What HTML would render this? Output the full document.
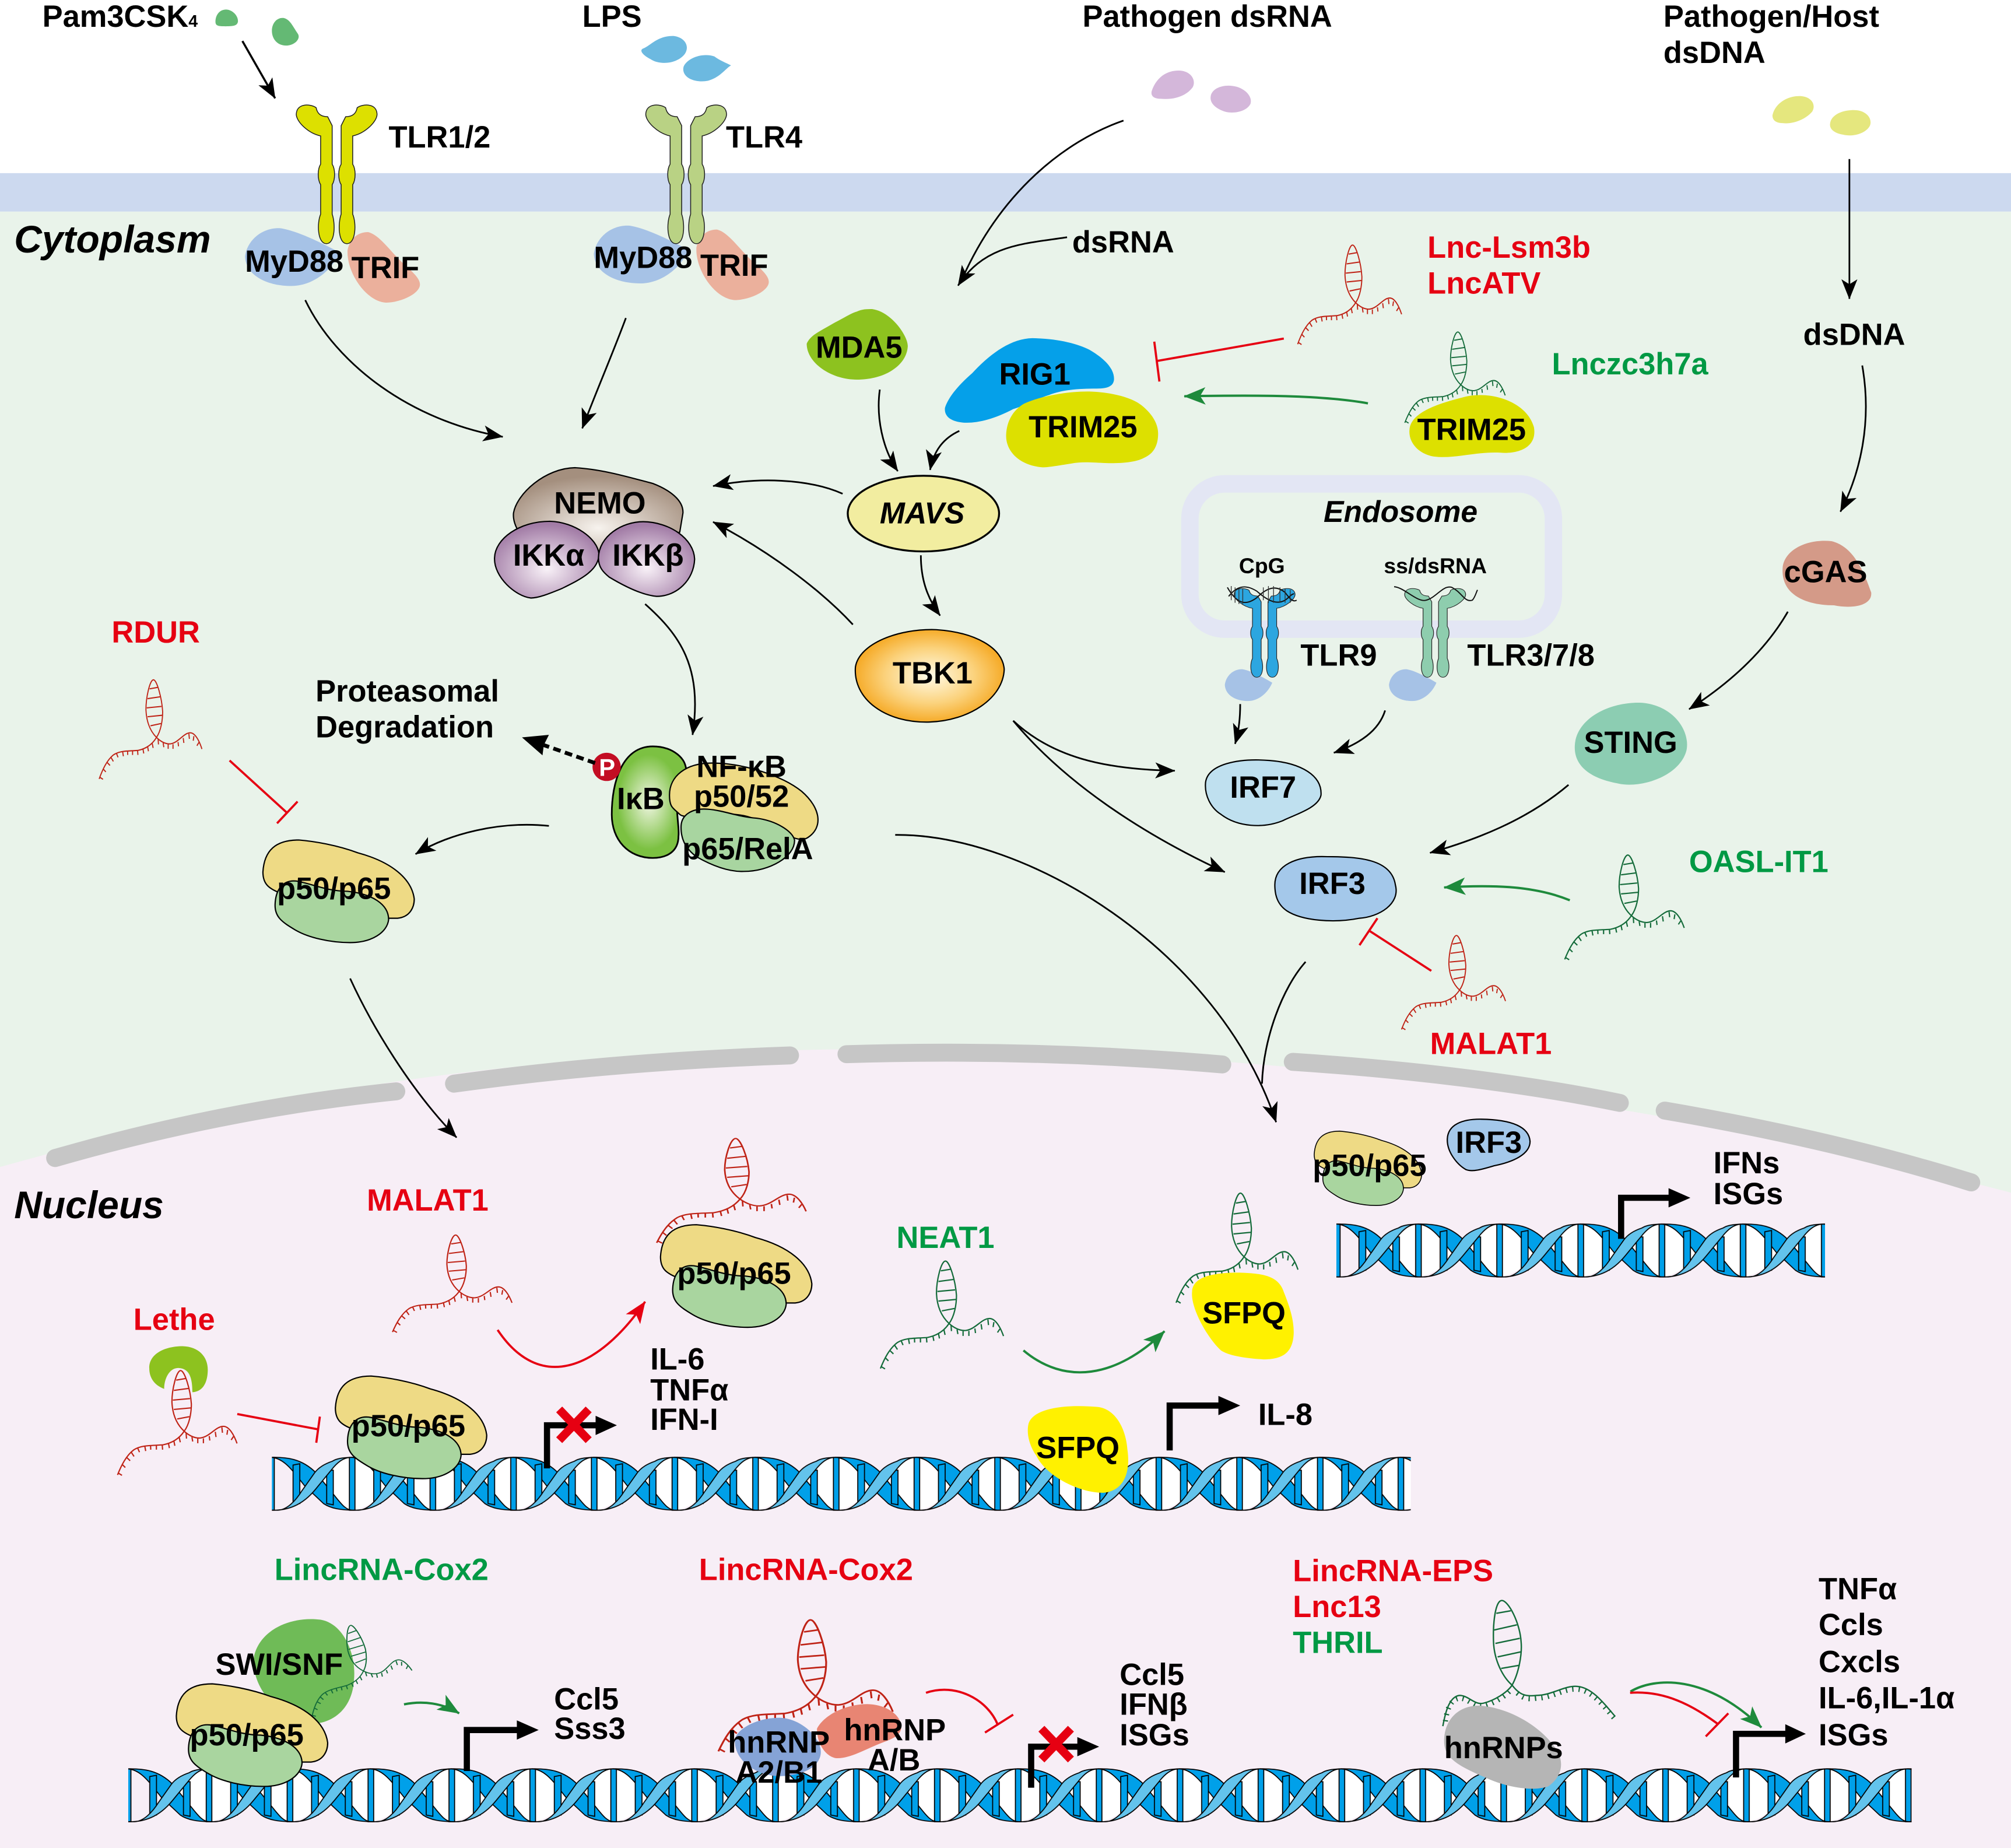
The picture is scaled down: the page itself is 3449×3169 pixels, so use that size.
<!DOCTYPE html>
<html lang="en"><head><meta charset="utf-8"><title>Innate immune signaling and lncRNAs</title>
<style>
html,body{margin:0;padding:0;background:#fff}
svg{display:block}
text{font-family:"Liberation Sans",sans-serif;font-weight:bold;font-size:23.85px;fill:#000}
.r{fill:#e60012}.g{fill:#009944}.i{font-style:italic}
.l{fill:none;stroke:#000;stroke-width:1.3;marker-end:url(#ab)}
.lg{fill:none;stroke:#1e8a3c;stroke-width:1.8;marker-end:url(#ag)}
.lr{fill:none;stroke:#e60012;stroke-width:1.7}
.o{stroke:#000;stroke-width:1}
.pr{fill:none;stroke:#000;stroke-width:4.8}
</style></head><body>
<svg xmlns="http://www.w3.org/2000/svg" width="3449" height="3169" viewBox="0 0 1568 1441" preserveAspectRatio="none">
<defs>
<marker id="ab" markerUnits="userSpaceOnUse" markerWidth="16" markerHeight="12.5" viewBox="0 0 20 16" refX="19.5" refY="8" orient="auto"><path d="M0 0L20 8L0 16L5 8Z" fill="#000"/></marker>
<marker id="ag" markerUnits="userSpaceOnUse" markerWidth="17" markerHeight="14" viewBox="0 0 20 16" refX="19.5" refY="8" orient="auto"><path d="M0 0L20 8L0 16L5 8Z" fill="#1e8a3c"/></marker>
<marker id="ar" markerUnits="userSpaceOnUse" markerWidth="17" markerHeight="14" viewBox="0 0 20 16" refX="19.5" refY="8" orient="auto"><path d="M0 0L20 8L0 16L5 8Z" fill="#e60012"/></marker>
<radialGradient id="gNemo" cx=".5" cy=".72" r=".62"><stop offset="0" stop-color="#f7f3ee"/><stop offset="1" stop-color="#a48f7e"/></radialGradient>
<radialGradient id="gIkk" cx=".5" cy=".62" r=".58"><stop offset="0" stop-color="#f9f2f8"/><stop offset="1" stop-color="#a27ca6"/></radialGradient>
<radialGradient id="gTbk" r=".6"><stop offset="0" stop-color="#fffbe8"/><stop offset=".5" stop-color="#fbd27c"/><stop offset="1" stop-color="#f39800"/></radialGradient>
<radialGradient id="gIkb"><stop offset="0" stop-color="#f1f6e4"/><stop offset=".85" stop-color="#7cc142"/></radialGradient>
<g id="tlrh"><path d="M-3.5 16L-7 9C-12 9-15 7-16 2C-20-1-31-2-31.5 7C-31.5 13-22 22-12.5 24V46C-15 50-15 58-12.5 62V85C-15.5 92-15 108-8 108C-1 108-1 92-3.5 85V62C-1 58-1 50-3.5 46Z" stroke="#222" stroke-width=".7"/></g>
<g id="tlr"><use href="#tlrh"/><use href="#tlrh" transform="scale(-1,1)"/></g>
<g id="rna" fill="none" style="stroke:currentColor" transform="scale(.1515) translate(-408,-525)" stroke-width="6.5">
<path d="M65 750C85 700 110 650 150 620C190 595 240 600 300 595C350 585 385 560 408 525C435 490 445 430 445 385C440 310 410 213 390 213C368 213 345 310 345 375C348 440 370 490 408 525C430 545 460 562 490 560C540 555 570 500 610 500C640 500 665 545 680 588"/>
<path d="M367 262L415 254M355 315L430 305M350 365L438 357M355 413L442 405M372 462L435 450"/>
<path d="M68 740L88 752M88 695L105 712M112 660L130 677M135 632L150 655M168 610L178 633M205 600L210 627M235 597L236 620M265 597L265 620M295 595L297 620M327 587L332 612M355 575L360 600M382 555L388 582M418 535L420 563M448 555L452 578M478 563L478 587M507 562L507 587M537 550L540 573M568 528L572 555M602 505L605 533M632 518L628 543M662 552L650 570"/>
</g>
<g id="pp">
<path class="o" fill="#eeda85" d="M0 25C1 8 10 0 28 0C40 1 58 4 74 10C100 17 116 30 118 46C118 52 115 60 105 61L85 61L15 42C5 38 0 35 0 25Z"/>
<path class="o" fill="#a9d59f" d="M9.5 50C10 38 16 31 26 32C38 34 50 40 66 40C85 42 98 50 98 62C97 72 85 80 68 80C52 80 35 76 25 70C15 64 9 60 9.5 50Z"/>
</g>
<g id="myd"><path d="M191 200C193 186 206 177 219 178C232 180 252 190 265 197C258 212 243 223 227 223C210 223 192 216 191 200Z" fill="#a6c2e6"/></g>
<g id="trif"><path d="M271 195C273 186 279 181 287 181C296 183 305 197 315 206C324 214 329 219 327 224C324 231 310 236 301 236C285 235 270 212 271 195Z" fill="#ebb09c"/></g>
<pattern id="hx" patternUnits="userSpaceOnUse" x="0" y="0" width="63.6" height="44.5" patternTransform="translate(211.7,1134.9) scale(.989,1)">
<g transform="translate(0,1.5)" stroke="#000" stroke-width=".8">
<rect x="-2.2" y="0" width="4.4" height="41.2" fill="#00a0e9"/><rect x="61.4" y="0" width="4.4" height="41.2" fill="#00a0e9"/>
<path fill="#00a0e9" d="M0 0C12-.2 24 1 35 12L49 29C54 35 58 41 63.6 41.2C55 41 47 40 41 36L26 22L19.6 14C14 7 8 .7 0 0Z"/>
<path fill="#00a0e9" d="M17 6L22.3 5V36L17 35Z"/>
<path fill="#00a0e9" d="M43.5 10H48.7V37L43.5 36Z"/>
<path fill="#63c3ec" d="M0 41.2C12 41.5 24 38 35 24.5L49 7.6C54 2 58 0 63.6 0C55 .3 51 1 48 3C42 5 37 8 34 12L24 26C19 34 12 41 5 41.2Z"/>
</g></pattern>
<pattern id="hx2" href="#hx" patternTransform="translate(1042.7,953) scale(.995,1)"/>
<pattern id="hx3" href="#hx" patternTransform="translate(99.9,1377.8) scale(.992,1)"/>
<pattern id="hw" patternUnits="userSpaceOnUse" x="0" y="0" width="63.6" height="44.5" patternTransform="translate(211.7,1134.9) scale(.989,1)">
<path transform="translate(0,1.5)" fill="#fff" d="M30 20.6C38 10 48 1 63.6 .3V41C48 40 38 31 30 20.6ZM0 .3V41C12 40 22 31 30 20.6C22 10 12 1 0 .3Z"/>
</pattern>
<pattern id="hw2" href="#hw" patternTransform="translate(1042.7,953) scale(.995,1)"/>
<pattern id="hw3" href="#hw" patternTransform="translate(99.9,1377.8) scale(.992,1)"/>
</defs>

<rect width="1568" height="1441" fill="#fff"/>
<rect y="135" width="1568" height="30" fill="#ccd9ef"/>
<rect y="165" width="1568" height="800" fill="#e9f3ea"/>
<path d="M0 910C250 840 450 818 700 818C1000 818 1300 860 1568 930V1441H0Z" fill="#f7eef6"/>
<g fill="none" stroke="#c6c6c6" stroke-width="14" stroke-linecap="round">
<path d="M43 903C130 878 220 860 309 851"/><path d="M354 845C440 833 530 826 616 823"/><path d="M660 822C760 819 860 822 953 830"/><path d="M1008 828C1100 834 1190 845 1263 860"/><path d="M1298 866C1380 880 1460 898 1537 922"/>
</g>

<!-- ligands -->
<path fill="#64b974" d="M168 17C168 11 172 7 177 7.5C182 8 186 13 185.5 17C185 20 182 20.5 176 20.5C171 20.5 168 20.5 168 17Z"/>
<path fill="#64b974" d="M212 24C212 18 216 13.5 221 14C226 15 228 20 232 26C235 30 230 35 224 35.5C217 36 212 31 212 24Z"/>
<path fill="#6cb9e0" d="M501 38C507 36 512 28 525 28C534 29 538 36 534 42C528 50 514 51 507 46C503 44 498 40 501 38Z"/>
<path fill="#6cb9e0" d="M533 52C536 45 548 41 557 44C561 47 566 49 570 51C565 54 562 60 552 63C541 65 531 60 533 52Z"/>
<path fill="#d4b7da" d="M898 71C901 62 908 55 919 55C928 55 933 62 930 68C925 75 915 78 905 77C900 77 897 75 898 71Z"/>
<path fill="#d4b7da" d="M944 75C945 69 953 66 961 67C970 68 977 75 975 81C972 87 962 89 955 87C949 85 943 81 944 75Z"/>
<path fill="#e5e77e" d="M1382 90C1384 80 1395 74 1405 75C1413 76 1416 82 1413 87C1408 93 1398 97 1390 96C1385 96 1382 94 1382 90Z"/>
<path fill="#e5e77e" d="M1427 96C1428 89 1438 85 1448 86C1456 87 1460 93 1458 98C1455 104 1445 107 1437 105C1431 104 1426 101 1427 96Z"/>

<!-- TLRs + adaptors -->
<use href="#myd"/><use href="#trif"/>
<use href="#tlr" transform="translate(262.5,82)" fill="#dde000"/>
<g transform="translate(272,-2)"><use href="#myd"/><use href="#trif"/></g>
<use href="#tlr" transform="translate(535,82)" fill="#b9d284"/>

<!-- endosome -->
<rect x="927.8" y="377.3" width="283.4" height="113.3" rx="27" fill="none" stroke="#e3e6f4" stroke-width="13.6"/>
<use href="#myd" transform="translate(859.5,424) scale(.5,.55)"/>
<use href="#myd" transform="translate(987.5,424) scale(.5,.55)"/>
<use href="#tlr" transform="translate(986,459) scale(.755,.64)" fill="#2ca6e0"/>
<use href="#tlr" transform="translate(1119,459) scale(.755,.64)" fill="#8ecdae"/>
<path fill="none" stroke="#111" stroke-width=".9" d="M957 458C965 472 972 472 980 466C988 458 995 456 1002 462C1005 466 1008 470 1011 468M958 465C965 456 972 456 980 461C988 468 995 472 1002 468C1005 466 1007 463 1009 463"/>
<path fill="none" stroke="#333" stroke-width=".6" d="M960 457V468M963 458V470M966 459V471M969 459V471M985 458V468M989 457V470M993 457V470M998 458V470M1002 459V470M1006 460V470"/>
<path fill="none" stroke="#111" stroke-width=".9" d="M1087 457.5C1095 458 1105 470 1112 468C1120 466 1125 456 1132 458C1140 462 1142 470 1148 468C1150 466 1151 462 1152 460"/>

<!-- cytoplasm proteins -->
<path fill="#8dc21f" d="M629 268C632 261 640 258 650 252C658 248 664 244 668 243C672 241 676 241 680 241C695 243 708 262 707.8 270C707 285 690 296 668 296C648 296 629 283 629 268Z"/>
<path fill="#05a0e9" d="M736.8 318C740 308 750 298 758 291C772 276 788 264 805 263.7C825 264 840 268 849.4 272.7C862 280 869 288 868.6 296C868 302 862 303 855 303C840 303 828 304 818 308C808 311 800 316 790 319C775 327 762 330 752 329.6C742 329 736 325 736.8 318Z"/>
<path fill="#dde000" d="M784.5 339C785 328 790 320 798 315C808 310 830 305 849.4 305.3C870 306 884 311 890 316C900 324 903 332 903 338C903 348 899 354 892 357C885 361 870 361.5 860 361C850 360.5 843 360 835 361.5C825 363 818 364.4 812.9 364.4C795 363 784 352 784.5 339Z"/>
<path fill="#d49a88" d="M1390 442C1392 428 1410 420 1428 422C1445 426 1453 445 1459 462C1460 472 1445 475 1430 472C1410 472 1388 465 1390 442Z"/>
<path fill="#8ccdb2" d="M1228 580C1230 560 1255 547 1280 548C1305 550 1318 570 1315 585C1310 605 1280 615 1262 611C1245 608 1226 600 1228 580Z"/>
<path class="o" fill="url(#gNemo)" d="M400.4 400C403 385 425 365 448.5 364.7C470 366 490 372 509 377C522 382 533 390 532.5 400L530 415L467 430L403 412C401 408 400 404 400.4 400Z"/>
<path class="o" fill="url(#gIkk)" d="M385.6 435C386 420 405 406.5 428.8 406.5C448 407 466 420 467 432C467 445 452 452 437.9 459C428 463 420 466.3 414 466.3C402 465 385 450 385.6 435Z"/>
<path class="o" fill="url(#gIkk)" d="M466.6 435C467 418 485 406.8 501.5 406.8C522 407 541 420 541.6 436C541 452 528 465 512 465C500 464 485 456 475 450C470 446 466.6 442 466.6 435Z"/>
<ellipse cx="720" cy="400.5" rx="59" ry="29.5" fill="#f2eda0" stroke="#000" stroke-width="1.5"/>
<path class="o" fill="url(#gTbk)" d="M667 520C670 502 700 490 730 491C760 493 782 505 783 522C782 545 755 562 725 563C690 564 665 545 667 520Z"/>
<path class="o" fill="#bfe0ef" d="M940 610C942 596 965 591 990 593C1015 595 1031 605 1030 620C1028 630 1010 635 1000 640C985 646 965 645 952 635C944 630 939 620 940 610Z"/>
<path class="o" fill="#a4c8ea" d="M994 690C994 675 1010 667 1035 668C1060 668 1085 670 1088 690C1092 705 1075 715 1060 716C1040 720 1015 718 1003 710C996 705 994 698 994 690Z"/>
<path fill="url(#gIkb)" stroke="#000" stroke-width="1.3" d="M509 582C522 582 534 589 535 600L529 620C526 630 530 645 529 652C529 664 520 669 509 669C490 669 477 655 477 635C477 610 485 582 509 582Z"/>
<path class="o" fill="#eeda85" d="M522 620C522 605 535 595 555 595C580 595 610 605 625 617C640 630 642 645 630 653C620 660 600 640 580 636C560 632 535 640 530 635C525 630 522 630 522 620Z"/>
<path class="o" fill="#a8d5a0" d="M531 645C531 635 540 630 552 631C565 632 575 637 590 638C605 640 618 648 619.5 655C620 668 600 679.5 580 679.5C565 680 550 672 543 668C535 662 531 655 531 645Z"/>
<circle cx="473" cy="598" r="11" fill="#c30d23"/>
<text x="467" y="605" style="font-size:19px;fill:#fff">P</text>
<use href="#pp" transform="translate(205,655)"/>

<!-- RNAs -->
<use href="#rna" transform="translate(1057,236) scale(.87,.95)" style="color:#bf2316"/>
<use href="#rna" transform="translate(1139,300) scale(.84,.87)" style="color:#146b3a"/>
<path fill="#dde000" d="M1099 335C1100 322 1120 315 1140 310C1160 304 1190 312 1196 333C1199 350 1182 354 1170 353C1150 352 1135 358 1118 356C1106 354 1098 345 1099 335Z"/>
<use href="#rna" transform="translate(122,575) scale(.86,.95)" style="color:#bf2316"/>
<use href="#rna" transform="translate(1272,714)" style="color:#146b3a"/>
<use href="#rna" transform="translate(1138,772) scale(.87,.9)" style="color:#bf2316"/>

<!-- nucleus DNA -->
<rect x="1072" y="953" width="351" height="44.5" fill="url(#hw2)"/>
<rect x="241" y="1134.9" width="859" height="44.5" fill="url(#hw)"/>
<rect x="130" y="1377.8" width="1360.5" height="44.5" fill="url(#hw3)"/>
<rect x="1042" y="953" width="381" height="44.5" fill="url(#hx2)"/>
<rect x="212" y="1134.9" width="888" height="44.5" fill="url(#hx)"/>
<rect x="100" y="1377.8" width="1390.5" height="44.5" fill="url(#hx3)"/>

<!-- nucleus RNA / proteins -->
<use href="#rna" transform="translate(358,1007) scale(1,.93)" style="color:#bf2316"/>
<use href="#rna" transform="translate(577,935) scale(1.25,1)" style="color:#bf2316"/>
<use href="#pp" transform="translate(515,955)"/>
<use href="#rna" transform="translate(740,1032) scale(1.03)" style="color:#146b3a"/>
<use href="#rna" transform="translate(970,980) scale(1.02,1.05)" style="color:#146b3a"/>
<path fill="#fff100" d="M929.5 1007C930 997 942 992 968 992.4C985 993 997 995 1001 1007.5C1006 1020 1009 1030 1008.7 1040C1008 1055 1000 1060 985 1060C970 1059 958 1057 952 1053C942 1044 928 1020 929.5 1007Z"/>
<use href="#pp" transform="translate(1024.7,882) scale(.71,.725)"/>
<path class="o" fill="#a4c8ea" d="M1128.5 888C1129 877 1140 872.5 1155 872.7C1175 873 1192 877 1193 890C1193 900 1180 906 1165 909C1155 912 1148 914 1143 912C1136 908 1128 898 1128.5 888Z"/>
<use href="#rna" transform="translate(143.6,1116)" style="color:#bf2316"/>
<path fill="#8dc21f" d="M116.4 1067C116 1056 128 1049.7 142.4 1049.7C155 1050 162 1058 162 1068C162 1075 160 1085 150 1085.6C150 1075 148 1066.7 138.6 1066.7C132 1067 128 1075 128 1083C120 1080 116.4 1074 116.4 1067Z"/>
<use href="#pp" transform="translate(261.5,1073)"/>
<path fill="#fff100" d="M802 1110C806 1098 830 1095 855 1097C870 1098 878 1115 879 1130C882 1150 875 1163 860 1164C840 1164 815 1150 808 1135C803 1128 800 1118 802 1110Z"/>

<!-- bottom row -->
<path fill="#6fbb57" d="M198 1292C202 1272 225 1260 250 1263C268 1266 278 1290 276 1310C275 1330 262 1343 245 1344C225 1345 195 1320 198 1292Z"/>
<use href="#rna" transform="translate(283.4,1303) rotate(-12) scale(.9,.78)" style="color:#146b3a"/>
<use href="#pp" transform="translate(137.5,1313)"/>
<use href="#rna" transform="translate(636,1322.7) scale(1.46,1.26)" style="color:#bf2316"/>
<path fill="#e88573" d="M637 1348C642 1338 658 1329 676 1328.8C692 1329 703 1338 702.8 1347C702 1355 692 1357 685 1360C675 1364 663 1371 653 1371C646 1371 637 1362 637 1348Z"/>
<path fill="#85a3d6" d="M573 1356C575 1348 590 1339.4 608 1339.4C625 1340 640 1355 640 1366C640 1378 625 1385 607 1385C588 1384 572 1372 573 1356Z"/>
<g fill="none" stroke="#146b3a" stroke-width="1.1">
<path d="M1125 1346C1127 1335 1130 1323 1138 1322C1145 1322 1150 1330 1157 1328C1165 1326 1175 1320 1179 1314C1184 1305 1187 1290 1186 1280C1185 1265 1176 1248 1171 1248C1166 1248 1164 1265 1164.5 1280C1165 1295 1172 1308 1179 1314C1185 1322 1190 1323 1198 1322C1210 1322 1220 1314 1230 1315C1242 1316 1252 1330 1259 1338"/>
<path d="M1166.7 1258L1178 1256M1165 1271L1182.7 1267M1166 1281.5L1185 1277.5M1167.7 1292L1186 1288M1170.5 1301L1185 1298.5"/>
<path transform="translate(0,2.2)" stroke-width="4" stroke-dasharray="1 4" d="M1127 1340C1128 1333 1130 1323 1138 1322C1145 1322 1150 1330 1157 1328C1165 1326 1175 1320 1179 1314M1183 1318C1188 1322 1190 1323 1198 1322C1210 1322 1220 1314 1230 1315C1242 1316 1252 1330 1259 1338"/>
</g>
<path fill="#b5b5b5" d="M1126 1358C1126 1340 1138 1330 1153 1330C1175 1331 1200 1345 1212 1362C1220 1372 1219 1385 1207 1393C1195 1397 1175 1394 1158 1386C1140 1378 1126 1372 1126 1358Z"/>

<!-- connectors -->
<path class="l" style="stroke-width:1.6" d="M189 32L214.5 76.6"/>
<path class="l" d="M238 234C262 284 320 328 392 340.6"/>
<path class="l" d="M488 248C478 275 465 305 454 334"/>
<path fill="none" stroke="#000" stroke-width="1.3" d="M876 94C830 110 780 150 750 218"/>
<path class="l" d="M832 185C800 190 768 190 747 222.7"/>
<path class="l" d="M686 303.8C683 325 688 350 700 367.4"/>
<path class="l" d="M748 336C735 342 728 352 725.2 366.4"/>
<path class="l" d="M657 385C630 373 590 372 556 379"/>
<path class="l" d="M665 487C640 460 600 430 556 407"/>
<path class="l" d="M718 433C718 450 722 465 733 480"/>
<path class="l" d="M503 471C530 495 548 520 540 573"/>
<path class="l" d="M790 562C820 590 860 600 916 601"/>
<path class="l" d="M790 562C830 610 890 650 955 680"/>
<path class="l" d="M967 549C967 560 966 570 963 580"/>
<path class="l" d="M1080 554C1075 570 1060 580 1040 587"/>
<path class="l" d="M1442 124V233"/>
<path class="l" d="M1452 285C1460 330 1450 370 1435 399"/>
<path class="l" d="M1394 477C1375 510 1345 535 1317 553"/>
<path class="l" d="M1223 612C1190 640 1150 655 1115 665"/>
<path fill="none" stroke="#000" stroke-width="1.3" d="M1018 750C1000 770 985 810 984 845"/>
<path class="l" d="M698 651C800 650 950 740 995 875"/>
<path class="l" d="M428 644C390 640 350 650 324 666"/>
<path class="l" d="M273 763C290 800 320 850 356 887"/>
<path fill="none" stroke="#000" stroke-width="3" stroke-dasharray="6 3.5" d="M464 595L424 581"/>
<path fill="#000" d="M407 575L428 573L424 581L423 589Z"/>

<path class="lg" d="M1066.6 314.5C1030 308 980 308 923.4 309"/>
<path class="lg" d="M1224 702C1195 690 1160 690 1126 692"/>
<path class="lg" d="M798 1053C830 1080 870 1075 908 1038"/>
<path class="lg" d="M315 1329C330 1326 345 1328 358 1336"/>
<path class="lg" d="M1271.3 1319C1290 1308 1330 1305 1373.4 1347"/>

<path class="lr" d="M1001 264L902 281.5M900 266.4L904 297.5"/>
<path class="lr" d="M179 593L224 634M216 642L232 625"/>
<path class="lr" d="M1116 757L1068 726M1060 737L1074 716"/>
<path class="lr" d="M185 1102.6L247.7 1114.5M249.4 1104.6L246.6 1125"/>
<path class="lr" d="M388 1037C420 1085 465 1070 503 1015" marker-end="url(#ar)"/>
<path class="lr" d="M722 1320C745 1312 770 1325 778 1345M768 1351L790 1337"/>
<path class="lr" d="M1271 1320C1298 1318 1320 1330 1339 1344M1347.6 1336L1330 1354"/>

<!-- promoters -->
<path class="pr" d="M426.5 1145V1111.4H466"/><path d="M464.4 1104L481 1111.4L464.4 1119Z"/>
<path class="pr" d="M912 1131V1096H952"/><path d="M950 1088.5L967 1096L950 1103.5Z"/>
<path class="pr" d="M1264 966V934H1303"/><path d="M1301 926.5L1318 934L1301 941.5Z"/>
<path class="pr" d="M364 1381V1349H405"/><path d="M403 1341.5L420 1349L403 1356.5Z"/>
<path class="pr" d="M804 1394V1362H842"/><path d="M840 1354.5L857 1362L840 1369.5Z"/>
<path class="pr" d="M1353.6 1386V1352H1394"/><path d="M1392 1344.5L1408 1352L1392 1359.5Z"/>
<path stroke="#e60012" stroke-width="6.5" fill="none" d="M436 1099L459 1123M459 1099L436 1123M812 1348L835 1372M835 1348L812 1372"/>

<!-- labels -->
<text x="33" y="21">Pam3CSK<tspan style="font-size:13px">4</tspan></text>
<text x="454" y="21">LPS</text>
<text x="844" y="21">Pathogen dsRNA</text>
<text x="1297" y="21">Pathogen/Host</text><text x="1297" y="49">dsDNA</text>
<text x="303" y="115">TLR1/2</text><text x="566" y="115">TLR4</text>
<text x="11" y="197" class="i" style="font-size:30px">Cytoplasm</text>
<text x="191" y="212">MyD88</text><text x="274" y="217">TRIF</text>
<text x="463" y="209">MyD88</text><text x="546" y="215">TRIF</text>
<text x="836" y="197">dsRNA</text>
<text x="1113" y="201" class="r">Lnc-Lsm3b</text><text x="1113" y="229" class="r">LncATV</text>
<text x="1210" y="292" class="g">Lnczc3h7a</text>
<text x="636" y="279">MDA5</text><text x="779" y="300">RIG1</text>
<text x="802" y="341">TRIM25</text><text x="1105" y="343">TRIM25</text>
<text x="1406" y="269">dsDNA</text>
<text x="1032" y="407" class="i" style="font-size:23.5px">Endosome</text>
<text x="966" y="447" style="font-size:17px">CpG</text><text x="1079" y="447" style="font-size:17px">ss/dsRNA</text>
<text x="1014" y="519">TLR9</text><text x="1144" y="519">TLR3/7/8</text>
<text x="1391" y="454">cGAS</text><text x="1235" y="587">STING</text>
<text x="432" y="400.4">NEMO</text><text x="400" y="441">IKKα</text><text x="477.5" y="441">IKKβ</text>
<text x="686" y="408" class="i" style="font-size:23.5px">MAVS</text><text x="696" y="533">TBK1</text>
<text x="87" y="501" class="r">RDUR</text>
<text x="246" y="547">Proteasomal</text><text x="246" y="575">Degradation</text>
<text x="481" y="631">IκB</text><text x="543" y="606">NF-κB</text><text x="541" y="629">p50/52</text><text x="532" y="670">p65/RelA</text>
<text x="959" y="622">IRF7</text><text x="1013" y="697">IRF3</text>
<text x="1317" y="680" class="g">OASL-IT1</text>
<text x="1115" y="822" class="r">MALAT1</text>
<text x="216" y="701">p50/p65</text>
<text x="11" y="950" class="i" style="font-size:30px">Nucleus</text>
<text x="286" y="944" class="r">MALAT1</text>
<text x="699" y="973" class="g">NEAT1</text>
<text x="528" y="1001">p50/p65</text><text x="1023.5" y="917">p50/p65</text>
<text x="1135" y="899">IRF3</text>
<text x="1336" y="915">IFNs</text><text x="1336" y="939">ISGs</text>
<text x="937.5" y="1032">SFPQ</text>
<text x="104" y="1037" class="r">Lethe</text>
<text x="274" y="1120">p50/p65</text>
<text x="507" y="1068">IL-6</text><text x="507" y="1092">TNFα</text><text x="507" y="1115">IFN-I</text>
<text x="808" y="1137">SFPQ</text><text x="981" y="1111">IL-8</text>
<text x="214" y="1232" class="g">LincRNA-Cox2</text>
<text x="545" y="1232" class="r">LincRNA-Cox2</text>
<text x="1008" y="1233" class="r">LincRNA-EPS</text><text x="1008" y="1261" class="r">Lnc13</text><text x="1008" y="1289" class="g">THRIL</text>
<text x="1418" y="1247">TNFα</text><text x="1418" y="1275">Ccls</text><text x="1418" y="1304">Cxcls</text><text x="1418" y="1332">IL-6,IL-1α</text><text x="1418" y="1361">ISGs</text>
<text x="168" y="1306">SWI/SNF</text><text x="148" y="1361">p50/p65</text>
<text x="432" y="1333">Ccl5</text><text x="432" y="1356">Sss3</text>
<text x="567.5" y="1366.7">hnRNP</text><text x="573.5" y="1390">A2/B1</text>
<text x="658" y="1357">hnRNP</text><text x="676.5" y="1380.6">A/B</text>
<text x="873" y="1314">Ccl5</text><text x="873" y="1337">IFNβ</text><text x="873" y="1361">ISGs</text>
<text x="1126" y="1371">hnRNPs</text>
</svg>
</body></html>
